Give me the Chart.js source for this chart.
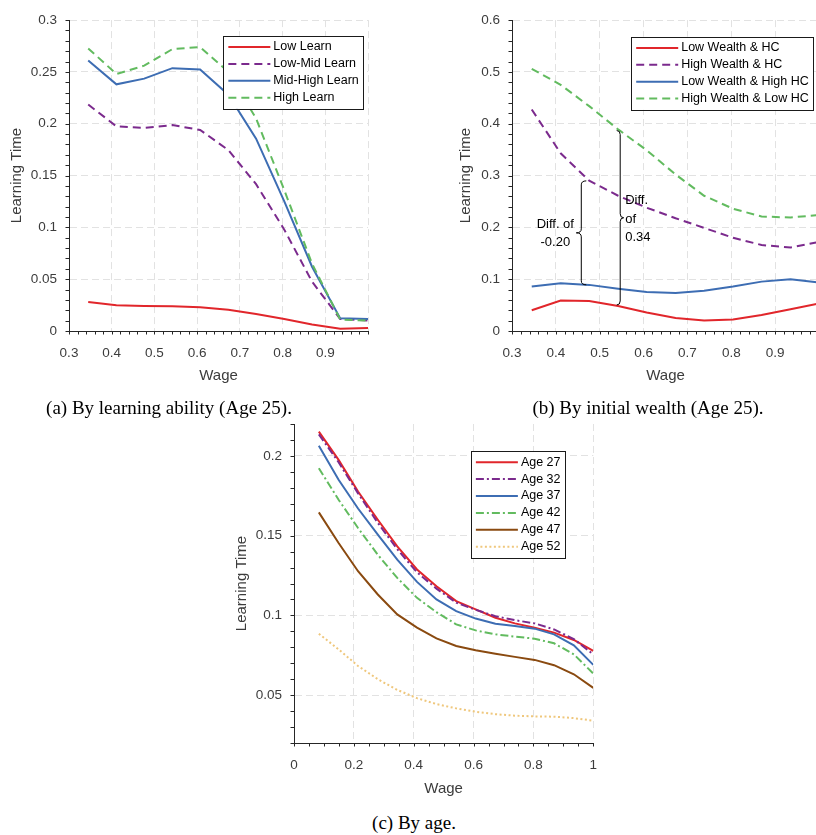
<!DOCTYPE html>
<html>
<head>
<meta charset="utf-8">
<script src="https://cdn.jsdelivr.net/npm/chart.js@4.4.1/dist/chart.umd.min.js"></script>
<style>
  html, body { margin: 0; padding: 0; background: #fff; overflow: hidden; width: 816px; height: 835px; }
  canvas { position: absolute; }
  .cap { position: absolute; font-family: 'Liberation Serif', 'Times New Roman', serif; font-size: 19px; line-height: 20px;
         color: #000; white-space: nowrap; transform: translateX(-50%); }
</style>
</head>
<body>
<canvas id="chartA" width="400" height="390" style="left:0px;top:0px"></canvas>
<canvas id="chartB" width="420" height="390" style="left:420px;top:0px"></canvas>
<canvas id="chartC" width="420" height="402" style="left:200px;top:400px"></canvas>
<div class="cap" style="left:169px;top:398px">(a) By learning ability (Age 25).</div>
<div class="cap" style="left:648px;top:398px">(b) By initial wealth (Age 25).</div>
<div class="cap" style="left:414px;top:813px">(c) By age.</div>

<script>
// wage grid: the age plot uses all points, the age-25 plots start at 0.345
const wageAll = [0.083, 0.149, 0.214, 0.280, 0.345, 0.411, 0.476, 0.542, 0.607, 0.673, 0.738, 0.804, 0.869, 0.935, 1.0];
const wage25 = [0.345, 0.411, 0.476, 0.542, 0.607, 0.673, 0.738, 0.804, 0.869, 0.935, 1.0];

// (a) by learning ability
const lowLearn     = [0.0279, 0.0248, 0.0241, 0.0238, 0.0229, 0.0204, 0.0163, 0.0116, 0.0063, 0.0022, 0.0028];
const lowMidLearn  = [0.2185, 0.1975, 0.1960, 0.1987, 0.1940, 0.1746, 0.1417, 0.0978, 0.0476, 0.0116, 0.0100];
const midHighLearn = [0.2610, 0.2380, 0.2435, 0.2536, 0.2524, 0.2280, 0.1856, 0.1250, 0.0620, 0.0122, 0.0116];
const highLearn    = [0.2727, 0.2480, 0.2560, 0.2720, 0.2740, 0.2500, 0.2050, 0.1360, 0.0650, 0.0110, 0.0100];

// (b) by initial wealth
const lowWealthHC     = [0.0401, 0.0590, 0.0577, 0.0483, 0.0357, 0.0251, 0.0201, 0.0220, 0.0307, 0.0420, 0.0533];
const highWealthHC    = [0.4275, 0.3430, 0.2900, 0.2610, 0.2380, 0.2176, 0.1990, 0.1800, 0.1660, 0.1610, 0.1720];
const lowWealthHighHC = [0.0859, 0.0920, 0.0890, 0.0815, 0.0752, 0.0734, 0.0777, 0.0859, 0.0953, 0.0997, 0.0934];
const highWealthLowHC = [0.5060, 0.4750, 0.4340, 0.3890, 0.3490, 0.3020, 0.2610, 0.2360, 0.2210, 0.2190, 0.2240];

// (c) by age
const age27 = [0.2152, 0.1975, 0.1777, 0.1600, 0.1433, 0.1288, 0.1183, 0.1090, 0.1038, 0.0985, 0.0950, 0.0923, 0.0892, 0.0846, 0.0777];
const age32 = [0.2135, 0.1960, 0.1765, 0.1580, 0.1415, 0.1270, 0.1168, 0.1080, 0.1035, 0.0995, 0.0970, 0.0950, 0.0912, 0.0852, 0.0755];
const age37 = [0.2063, 0.1850, 0.1670, 0.1506, 0.1350, 0.1210, 0.1100, 0.1027, 0.0980, 0.0948, 0.0933, 0.0917, 0.0881, 0.0812, 0.0690];
const age42 = [0.1923, 0.1725, 0.1548, 0.1380, 0.1235, 0.1110, 0.1020, 0.0944, 0.0906, 0.0881, 0.0867, 0.0854, 0.0825, 0.0756, 0.0635];
const age47 = [0.1646, 0.1454, 0.1277, 0.1131, 0.1006, 0.0923, 0.0856, 0.0808, 0.0781, 0.0760, 0.0740, 0.0721, 0.0688, 0.0631, 0.0546];
const age52 = [0.0885, 0.0787, 0.0683, 0.0600, 0.0533, 0.0481, 0.0444, 0.0417, 0.0396, 0.0381, 0.0371, 0.0367, 0.0365, 0.0356, 0.0340];

// axis ticks
const xTicksAB = [0.3, 0.4, 0.5, 0.6, 0.7, 0.8, 0.9, 1.0];
const xLabelsA = ['0.3', '0.4', '0.5', '0.6', '0.7', '0.8', '0.9', ''];
const xLabelsB = ['0.3', '0.4', '0.5', '0.6', '0.7', '0.8', '0.9', '1'];
const yTicksA = [0, 0.05, 0.1, 0.15, 0.2, 0.25, 0.3];
const yLabelsA = ['0', '0.05', '0.1', '0.15', '0.2', '0.25', '0.3'];
const yTicksB = [0, 0.1, 0.2, 0.3, 0.4, 0.5, 0.6];
const yLabelsB = ['0', '0.1', '0.2', '0.3', '0.4', '0.5', '0.6'];
const xTicksC = [0, 0.2, 0.4, 0.6, 0.8, 1];
const xLabelsC = ['0', '0.2', '0.4', '0.6', '0.8', '1'];
const yTicksC = [0.05, 0.1, 0.15, 0.2];
const yLabelsC = ['0.05', '0.1', '0.15', '0.2'];

const RED = '#e1262b', PURPLE = '#7b2a8d', BLUE = '#3d6db3', GREEN = '#62bb5f', BROWN = '#8a4a10', TAN = '#efc77c';
const AXIS = '#262626', TEXT = '#3c3c3c';
const FONT = "'Liberation Sans', Arial, Helvetica, sans-serif";

function series(label, xs, ys, color, dash) {
  return {
    label: label,
    data: xs.map((x, i) => ({ x: x, y: ys[i] })),
    borderColor: color,
    borderWidth: 2,
    borderDash: dash || [],
    pointRadius: 0,
    tension: 0,
    fill: false
  };
}

function drawBrace(ctx, x, yTop, yBot, dir, w) {
  // dir -1: nose to the left, dir 1: nose to the right
  const mid = (yTop + yBot) / 2, r = 4;
  ctx.beginPath();
  ctx.moveTo(x - dir * w, yTop);
  ctx.quadraticCurveTo(x, yTop, x, yTop + r);
  ctx.lineTo(x, mid - r);
  ctx.quadraticCurveTo(x, mid, x + dir * w, mid);
  ctx.quadraticCurveTo(x, mid, x, mid + r);
  ctx.lineTo(x, yBot - r);
  ctx.quadraticCurveTo(x, yBot, x - dir * w, yBot);
  ctx.stroke();
}

// outward minor ticks, boxed legend and brace notes (MATLAB look)
const matlabLook = {
  id: 'matlabLook',
  afterDatasetsDraw(chart, args, opts) {
    const ctx = chart.ctx, ca = chart.chartArea;
    const xs = chart.scales.x, ys = chart.scales.y;
    ctx.save();
    ctx.strokeStyle = AXIS;
    ctx.lineWidth = 1;
    ctx.beginPath();
    for (let k = 0; ; k++) {
      const v = xs.min + k * opts.xMinor;
      if (v > xs.max + 1e-9) break;
      const px = Math.round(xs.getPixelForValue(v)) + 0.5;
      ctx.moveTo(px, ca.bottom);
      ctx.lineTo(px, ca.bottom + 3.5);
    }
    for (let k = 0; ; k++) {
      const v = ys.min + k * opts.yMinor;
      if (v > ys.max + 1e-9) break;
      const py = Math.round(ys.getPixelForValue(v)) + 0.5;
      ctx.moveTo(ca.left, py);
      ctx.lineTo(ca.left - 3.5, py);
    }
    ctx.stroke();

    // brace annotations
    (opts.braces || []).forEach(b => {
      const x = xs.getPixelForValue(b.x);
      const y1 = ys.getPixelForValue(b.y1), y2 = ys.getPixelForValue(b.y2);
      ctx.strokeStyle = '#000';
      ctx.lineWidth = 1;
      drawBrace(ctx, x, y1, y2, b.dir, b.w);
      const mid = (y1 + y2) / 2;
      ctx.fillStyle = '#000';
      ctx.font = '13px ' + FONT;
      ctx.textAlign = b.align;
      ctx.textBaseline = 'middle';
      b.lines.forEach((t, i) => ctx.fillText(t, x + b.dx, mid + b.dy[i]));
    });

    // legend box
    const sets = chart.data.datasets;
    ctx.font = '12.5px ' + FONT;
    const textW = Math.max(...sets.map(d => ctx.measureText(d.label).width));
    const w = 50 + textW + 4.5, rowH = 16.9, h = 22.4 + (sets.length - 1) * rowH;
    const right = ca.right - opts.legendRight, top = ca.top + opts.legendTop, left = right - w;
    ctx.fillStyle = '#fff';
    ctx.fillRect(left, top, w, h);
    ctx.strokeStyle = '#1a1a1a';
    ctx.lineWidth = 1;
    ctx.strokeRect(Math.round(left) + 0.5, Math.round(top) + 0.5, Math.round(w), Math.round(h));
    sets.forEach((d, i) => {
      const y = top + 11.2 + i * rowH;
      ctx.beginPath();
      ctx.setLineDash(d.borderDash || []);
      ctx.strokeStyle = d.borderColor;
      ctx.lineWidth = d.borderWidth;
      ctx.moveTo(left + 5, y);
      ctx.lineTo(left + 47, y);
      ctx.stroke();
      ctx.setLineDash([]);
      ctx.fillStyle = '#000';
      ctx.textAlign = 'left';
      ctx.textBaseline = 'middle';
      ctx.fillText(d.label, left + 50, y);
    });
    ctx.restore();
  }
};

function createChart(id, datasets, ax) {
  datasets.forEach((d, i) => { d.order = datasets.length - i; });
  return new Chart(document.getElementById(id), {
    type: 'line',
    data: { datasets: datasets },
    plugins: [matlabLook],
    options: {
      responsive: false,
      animation: false,
      layout: { padding: ax.padding },
      plugins: {
        legend: { display: false },
        tooltip: { enabled: false },
        matlabLook: ax.look
      },
      scales: {
        x: {
          type: 'linear',
          min: ax.xMin, max: ax.xMax,
          afterBuildTicks: s => { s.ticks = ax.xTicks.map(v => ({ value: v })); },
          afterFit: s => { s.height = 59; },
          ticks: {
            autoSkip: false, maxRotation: 0, padding: 14, color: TEXT,
            font: { family: FONT, size: 13.5 },
            callback: (v, i) => ax.xLabels[i]
          },
          grid: { color: '#e2e2e2', lineWidth: 1, drawTicks: false },
          border: { color: AXIS, width: 1, dash: [7, 4] },
          title: { display: true, text: 'Wage', color: TEXT, font: { family: FONT, size: 15 }, padding: { top: 0, bottom: ax.xTitlePad } }
        },
        y: {
          type: 'linear',
          min: ax.yMin, max: ax.yMax,
          afterBuildTicks: s => { s.ticks = ax.yTicks.map(v => ({ value: v })); },
          afterFit: s => { s.width = ax.yWidth; },
          ticks: {
            autoSkip: false, padding: 12, color: TEXT,
            font: { family: FONT, size: 13.5 },
            callback: (v, i) => ax.yLabels[i]
          },
          grid: { color: '#e2e2e2', lineWidth: 1, drawTicks: false },
          border: { color: AXIS, width: 1, dash: [7, 4] },
          title: { display: true, text: 'Learning Time', color: TEXT, font: { family: FONT, size: 15 }, padding: { top: ax.yTitlePad, bottom: 0 } }
        }
      }
    }
  });
}

const DASH = [8, 5], DASHDOT = [8, 3, 2, 3], DOT = [2, 2.5];

createChart('chartA', [
  series('Low Learn', wage25, lowLearn, RED),
  series('Low-Mid Learn', wage25, lowMidLearn, PURPLE, DASH),
  series('Mid-High Learn', wage25, midHighLearn, BLUE),
  series('High Learn', wage25, highLearn, GREEN, DASH)
], {
  padding: { left: 0, top: 12, right: 32, bottom: 0 },
  xMin: 0.3, xMax: 1, xTicks: xTicksAB, xLabels: xLabelsA,
  yMin: 0, yMax: 0.3, yTicks: yTicksA, yLabels: yLabelsA,
  yWidth: 69, yTitlePad: 8, xTitlePad: 5,
  look: { xMinor: 0.02, yMinor: 0.01, legendRight: 4.7, legendTop: 15.7 }
});

createChart('chartB', [
  series('Low Wealth & HC', wage25, lowWealthHC, RED),
  series('High Wealth & HC', wage25, highWealthHC, PURPLE, DASH),
  series('Low Wealth & High HC', wage25, lowWealthHighHC, BLUE),
  series('High Wealth & Low HC', wage25, highWealthLowHC, GREEN, DASH)
], {
  padding: { left: 0, top: 12, right: 21, bottom: 0 },
  xMin: 0.3, xMax: 1, xTicks: xTicksAB, xLabels: xLabelsB,
  yMin: 0, yMax: 0.6, yTicks: yTicksB, yLabels: yLabelsB,
  yWidth: 92, yTitlePad: 37, xTitlePad: 5,
  look: {
    xMinor: 0.02, yMinor: 0.02, legendRight: 5.7, legendTop: 16.6,
    braces: [
      { x: 0.458, y1: 0.2897, y2: 0.0891, dir: -1, w: 5, dx: -26, align: 'center', dy: [-8, 9.5], lines: ['Diff. of', '-0.20'] },
      { x: 0.5467, y1: 0.3869, y2: 0.0502, dir: 1, w: 3.5, dx: 5, align: 'left', dy: [-17.5, 1.5, 19.5], lines: ['Diff.', 'of', '0.34'] }
    ]
  }
});

createChart('chartC', [
  series('Age 27', wageAll, age27, RED),
  series('Age 32', wageAll, age32, PURPLE, DASHDOT),
  series('Age 37', wageAll, age37, BLUE),
  series('Age 42', wageAll, age42, GREEN, DASHDOT),
  series('Age 47', wageAll, age47, BROWN),
  series('Age 52', wageAll, age52, TAN, DOT)
], {
  padding: { left: 0, top: 24, right: 26.7, bottom: 0 },
  xMin: 0, xMax: 1, xTicks: xTicksC, xLabels: xLabelsC,
  yMin: 0.02, yMax: 0.22, yTicks: yTicksC, yLabels: yLabelsC,
  yWidth: 94, yTitlePad: 33, xTitlePad: 4,
  look: { xMinor: 0.05, yMinor: 0.01, legendRight: 28.3, legendTop: 27 }
});
</script>
</body>
</html>
